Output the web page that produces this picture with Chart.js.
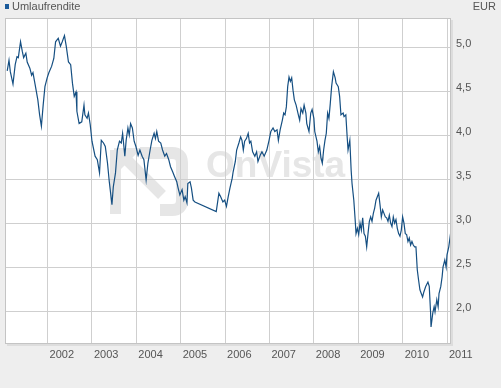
<!DOCTYPE html>
<html>
<head>
<meta charset="utf-8">
<script src="https://cdn.jsdelivr.net/npm/chart.js@4/dist/chart.umd.min.js"></script>
<style>
  html, body { margin: 0; padding: 0; background: #eeeeee; }
  #wrap { width: 501px; height: 388px; position: relative; }
</style>
</head>
<body>
<div id="wrap"><canvas id="chart" width="501" height="388"></canvas></div>
<script>
// Umlaufrendite, decimal year vs. yield in %
const dates = [
  2001.09, 2001.13, 2001.16, 2001.22, 2001.27, 2001.31, 2001.34, 2001.39, 2001.43, 2001.46,
  2001.51, 2001.54, 2001.60, 2001.64, 2001.67, 2001.72, 2001.78, 2001.82, 2001.86, 2001.90,
  2001.94, 2001.99, 2002.03, 2002.09, 2002.14, 2002.18, 2002.24, 2002.29, 2002.33, 2002.38,
  2002.42, 2002.47, 2002.52, 2002.56, 2002.60, 2002.64, 2002.66, 2002.71, 2002.77, 2002.82,
  2002.84, 2002.89, 2002.92, 2002.96, 2003.00, 2003.07, 2003.12, 2003.17, 2003.21, 2003.26,
  2003.30, 2003.35, 2003.39, 2003.45, 2003.48, 2003.53, 2003.57, 2003.62, 2003.66, 2003.69,
  2003.74, 2003.77, 2003.81, 2003.84, 2003.87, 2003.91, 2003.95, 2003.99, 2004.04, 2004.08,
  2004.13, 2004.17, 2004.22, 2004.26, 2004.31, 2004.35, 2004.40, 2004.43, 2004.46, 2004.50,
  2004.55, 2004.59, 2004.64, 2004.68, 2004.73, 2004.77, 2004.82, 2004.86, 2004.91, 2004.94,
  2004.98, 2005.03, 2005.07, 2005.10, 2005.14, 2005.16, 2005.21, 2005.24, 2005.28, 2005.32,
  2005.80, 2005.86, 2005.90, 2005.95, 2005.99, 2006.03, 2006.07, 2006.11, 2006.16, 2006.18,
  2006.23, 2006.26, 2006.31, 2006.35, 2006.38, 2006.41, 2006.44, 2006.48, 2006.52, 2006.55,
  2006.58, 2006.62, 2006.67, 2006.71, 2006.74, 2006.79, 2006.83, 2006.88, 2006.94, 2006.99,
  2007.03, 2007.08, 2007.12, 2007.17, 2007.20, 2007.24, 2007.29, 2007.32, 2007.35, 2007.38,
  2007.41, 2007.44, 2007.47, 2007.50, 2007.53, 2007.56, 2007.60, 2007.65, 2007.68, 2007.71,
  2007.75, 2007.78, 2007.82, 2007.84, 2007.89, 2007.93, 2007.96, 2008.00, 2008.02, 2008.07,
  2008.10, 2008.13, 2008.16, 2008.19, 2008.22, 2008.25, 2008.28, 2008.31, 2008.34, 2008.37,
  2008.40, 2008.44, 2008.48, 2008.50, 2008.55, 2008.58, 2008.61, 2008.66, 2008.68, 2008.72,
  2008.75, 2008.77, 2008.81, 2008.84, 2008.86, 2008.90, 2008.93, 2008.95, 2008.98, 2009.01,
  2009.04, 2009.07, 2009.10, 2009.13, 2009.16, 2009.19, 2009.22, 2009.25, 2009.28, 2009.31,
  2009.34, 2009.37, 2009.40, 2009.43, 2009.46, 2009.49, 2009.52, 2009.55, 2009.58, 2009.61,
  2009.64, 2009.67, 2009.70, 2009.73, 2009.76, 2009.79, 2009.82, 2009.85, 2009.88, 2009.91,
  2009.94, 2009.97, 2010.00, 2010.03, 2010.06, 2010.09, 2010.12, 2010.15, 2010.18, 2010.21,
  2010.24, 2010.27, 2010.30, 2010.33, 2010.36, 2010.39, 2010.42, 2010.45, 2010.48, 2010.52,
  2010.57, 2010.60, 2010.63, 2010.64, 2010.68, 2010.71, 2010.73, 2010.77, 2010.80, 2010.82,
  2010.86, 2010.89, 2010.91, 2010.95, 2010.98, 2011.00, 2011.04, 2011.08
];
const yields = [
  4.74, 4.86, 4.73, 4.59, 4.81, 4.90, 4.89, 5.07, 4.96, 4.89,
  4.94, 4.84, 4.77, 4.69, 4.72, 4.58, 4.41, 4.24, 4.11, 4.35,
  4.56, 4.66, 4.72, 4.79, 4.88, 5.07, 5.11, 5.02, 5.07, 5.14,
  5.02, 4.84, 4.81, 4.60, 4.45, 4.50, 4.28, 4.14, 4.16, 4.35,
  4.24, 4.20, 4.26, 4.13, 3.94, 3.77, 3.73, 3.58, 3.95, 3.92,
  3.88, 3.69, 3.48, 3.22, 3.42, 3.58, 3.84, 3.94, 3.92, 4.03,
  3.77, 3.95, 4.09, 4.01, 4.14, 4.09, 3.94, 3.88, 3.78, 3.84,
  3.77, 3.73, 3.50, 3.69, 3.84, 3.95, 4.03, 3.97, 4.05, 3.94,
  3.92, 3.84, 3.77, 3.80, 3.73, 3.65, 3.59, 3.54, 3.48, 3.41,
  3.33, 3.39, 3.27, 3.31, 3.24, 3.46, 3.48, 3.41, 3.27, 3.25,
  3.14, 3.35, 3.31, 3.25, 3.27, 3.20, 3.31, 3.41, 3.52, 3.59,
  3.71, 3.84, 3.92, 3.99, 3.95, 3.84, 3.94, 3.97, 4.03, 3.92,
  3.94, 3.82, 3.77, 3.82, 3.71, 3.78, 3.82, 3.77, 3.84, 3.95,
  4.05, 4.09, 4.05, 4.07, 3.95, 4.07, 4.18, 4.26, 4.24, 4.33,
  4.56, 4.67, 4.62, 4.66, 4.52, 4.41, 4.35, 4.24, 4.18, 4.31,
  4.26, 4.35, 4.26, 4.14, 4.05, 4.26, 4.30, 4.20, 4.05, 3.94,
  3.82, 3.88, 3.75, 3.69, 3.84, 3.95, 4.03, 4.26, 4.20, 4.37,
  4.56, 4.73, 4.66, 4.60, 4.56, 4.45, 4.24, 4.26, 4.22, 4.24,
  3.99, 3.84, 3.95, 3.61, 3.46, 3.27, 3.05, 2.89, 2.95, 2.88,
  3.01, 2.93, 3.07, 2.89, 2.86, 2.74, 2.89, 3.03, 3.08, 3.03,
  3.12, 3.18, 3.27, 3.31, 3.35, 3.22, 3.08, 3.16, 3.12, 3.08,
  3.07, 3.03, 3.10, 3.01, 2.97, 3.08, 3.01, 3.05, 2.95, 2.89,
  2.86, 2.93, 3.08, 3.01, 2.89, 2.88, 2.80, 2.84, 2.76, 2.80,
  2.76, 2.74, 2.74, 2.48, 2.36, 2.25, 2.21, 2.17, 2.23, 2.29,
  2.34, 2.29, 1.99, 1.83, 1.99, 2.06, 2.00, 2.14, 2.06, 2.21,
  2.29, 2.40, 2.51, 2.59, 2.51, 2.65, 2.74, 2.89
];
const yearTicks = [2002, 2003, 2004, 2005, 2006, 2007, 2008, 2009, 2010, 2011];
const yieldTicks = [2.0, 2.5, 3.0, 3.5, 4.0, 4.5, 5.0];

const lineColor = "#154f82";
const textColor = "#555555";
const font = {family: "'Liberation Sans', Arial, sans-serif", size: 11};

// white plot area with a soft shadow, plus the faint watermark
const plotBackground = {
    id: "plotBackground",
    beforeDraw(chart) {
        const {ctx, chartArea: a} = chart;
        ctx.save();
        ctx.fillStyle = "#dddddd";
        ctx.fillRect(a.left + 2, a.top + 2, a.right - a.left, a.bottom - a.top);
        ctx.fillStyle = "#ffffff";
        ctx.fillRect(a.left, a.top, a.right - a.left, a.bottom - a.top);

        // watermark
        ctx.strokeStyle = "#e6e6e6";
        ctx.fillStyle = "#e6e6e6";
        ctx.lineWidth = 12;
        ctx.lineCap = "butt";
        ctx.beginPath();
        ctx.moveTo(140, 153);
        ctx.lineTo(172, 153);
        ctx.quadraticCurveTo(182, 153, 182, 163);
        ctx.lineTo(182, 200);
        ctx.quadraticCurveTo(182, 210, 172, 210);
        ctx.lineTo(160, 210);
        ctx.stroke();
        ctx.lineWidth = 11;
        ctx.beginPath();
        ctx.moveTo(125, 158);
        ctx.lineTo(162, 195);
        ctx.stroke();
        ctx.beginPath();
        ctx.moveTo(114, 148);
        ctx.lineTo(142, 148);
        ctx.lineTo(114, 176);
        ctx.closePath();
        ctx.fill();
        ctx.fillRect(110, 150, 11, 64);
        ctx.font = "bold 37px 'Liberation Sans', Arial, sans-serif";
        ctx.textBaseline = "alphabetic";
        ctx.fillText("OnVista", 206, 177);
        ctx.restore();
    },
    afterDraw(chart) {
        const {ctx, chartArea: a} = chart;
        ctx.save();
        ctx.strokeStyle = "#c4c4c4";
        ctx.lineWidth = 1;
        ctx.strokeRect(a.left + 0.5, a.top + 0.5, a.right - a.left - 1, a.bottom - a.top - 1);
        // legend and unit
        ctx.fillStyle = "#1a5a9a";
        ctx.fillRect(5, 4, 4, 5);
        ctx.font = "11px 'Liberation Sans', Arial, sans-serif";
        ctx.fillStyle = textColor;
        ctx.textBaseline = "middle";
        ctx.textAlign = "left";
        ctx.fillText("Umlaufrendite", 12, 7);
        ctx.textAlign = "right";
        ctx.fillText("EUR", 496, 7);
        ctx.restore();
    }
};

new Chart(document.getElementById("chart"), {
    type: "line",
    data: {
        datasets: [{
            label: "Umlaufrendite",
            data: dates.map((d, i) => ({x: d, y: yields[i]})),
            borderColor: lineColor,
            borderWidth: 1.2,
            pointRadius: 0,
            tension: 0,
            fill: false
        }]
    },
    options: {
        responsive: false,
        animation: false,
        layout: {padding: {left: 5, top: 18, right: 0, bottom: 0}},
        plugins: {legend: {display: false}, tooltip: {enabled: false}},
        scales: {
            x: {
                type: "linear",
                min: 2001.04,
                max: 2011.09,
                afterBuildTicks: s => { s.ticks = yearTicks.map(v => ({value: v})); },
                afterFit: s => { s.height = 44; },
                grid: {color: "#cfcfcf", drawTicks: false},
                border: {display: false},
                ticks: {
                    color: textColor, font: font, align: "start", labelOffset: 2,
                    padding: 4, maxRotation: 0, autoSkip: false,
                    callback: v => String(v)
                }
            },
            y: {
                position: "right",
                min: 1.636,
                max: 5.34,
                afterBuildTicks: s => { s.ticks = yieldTicks.map(v => ({value: v})); },
                afterFit: s => { s.width = 50; },
                grid: {color: "#cfcfcf", drawTicks: false},
                border: {display: false},
                ticks: {
                    color: textColor, font: font, padding: 5, labelOffset: -4,
                    callback: v => v.toFixed(1).replace(".", ",")
                }
            }
        }
    },
    plugins: [plotBackground]
});
</script>
</body>
</html>
